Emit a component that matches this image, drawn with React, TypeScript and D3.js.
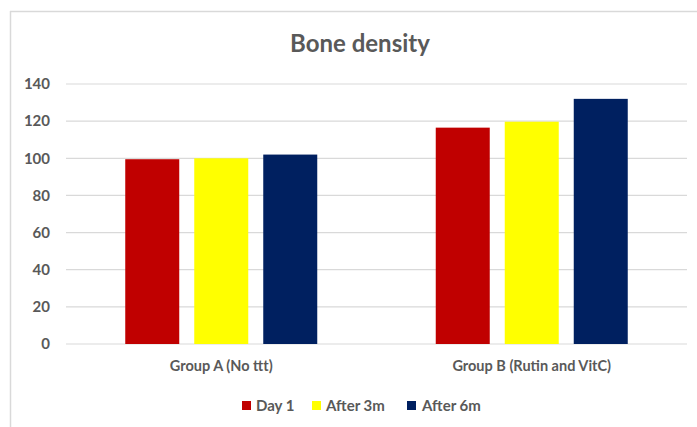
import React from "react";
import * as d3 from "d3";

const groups = ["Group A (No ttt)", "Group B (Rutin and VitC)"];
const seriesNames = ["Day 1", "After 3m", "After 6m"];
const day1 = [99.5, 116.5];
const after3m = [100, 119.7];
const after6m = [102, 132];
const seriesColors = ["#C00000", "#FFFF00", "#002060"];
const yTicks = [0, 20, 40, 60, 80, 100, 120, 140];

const W = 697;
const H = 427;
const FONT = "Lato, 'Open Sans', sans-serif";
const GRAY = "#595959";

export default function App() {
  const values = [day1, after3m, after6m];
  const y = d3.scaleLinear().domain([0, 140]).range([344, 84]);
  const x0 = d3.scaleBand<string>().domain(groups).range([66, 687]).padding(0);
  const groupW = 192;
  const x1 = d3
    .scaleBand<string>()
    .domain(seriesNames)
    .range([0, groupW])
    .paddingInner(15 / 69)
    .paddingOuter(0);

  const legendItems = [
    { name: seriesNames[0], sx: 242, tx: 256 },
    { name: seriesNames[1], sx: 312, tx: 326 },
    { name: seriesNames[2], sx: 407, tx: 422 },
  ];

  return (
    <svg
      width={W}
      height={H}
      style={{ position: "absolute", left: 0, top: 0, background: "#fff" }}
    >
      <rect x={0} y={0} width={W} height={H} fill="#fff" />
      <line x1={10.5} y1={11} x2={10.5} y2={H} stroke="#d9d9d9" strokeWidth={1.5} />
      <line x1={10} y1={11.5} x2={W} y2={11.5} stroke="#d9d9d9" strokeWidth={1.5} />

      <text
        x={360}
        y={52}
        textAnchor="middle"
        fontFamily={FONT}
        fontSize={24}
        fontWeight={700}
        fill={GRAY}
      >
        Bone density
      </text>

      {yTicks.map((t) => (
        <g key={t}>
          <line
            x1={66}
            x2={687}
            y1={y(t)}
            y2={y(t)}
            stroke="#d9d9d9"
            strokeWidth={1.2}
          />
          <text
            x={50}
            y={y(t)}
            dy="0.35em"
            textAnchor="end"
            fontFamily={FONT}
            fontSize={15}
            fontWeight={700}
            fill={GRAY}
          >
            {t}
          </text>
        </g>
      ))}

      {groups.map((g, gi) => {
        const gx = (x0(g) as number) + (x0.bandwidth() - groupW) / 2;
        return (
          <g key={g} transform={`translate(${gx},0)`}>
            {seriesNames.map((s, si) => {
              const v = values[si][gi];
              return (
                <rect
                  key={s}
                  x={x1(s) as number}
                  y={y(v)}
                  width={x1.bandwidth()}
                  height={y(0) - y(v)}
                  fill={seriesColors[si]}
                />
              );
            })}
          </g>
        );
      })}

      {groups.map((g) => (
        <text
          key={g}
          x={(x0(g) as number) + x0.bandwidth() / 2}
          y={366}
          dy="0.35em"
          textAnchor="middle"
          fontFamily={FONT}
          fontSize={14.5}
          fontWeight={700}
          fill={GRAY}
        >
          {g}
        </text>
      ))}

      {legendItems.map((it, i) => (
        <g key={it.name}>
          <rect x={it.sx} y={401} width={9} height={9} fill={seriesColors[i]} />
          <text
            x={it.tx}
            y={405.5}
            dy="0.35em"
            fontFamily={FONT}
            fontSize={15}
            fontWeight={700}
            fill={GRAY}
          >
            {it.name}
          </text>
        </g>
      ))}
    </svg>
  );
}
